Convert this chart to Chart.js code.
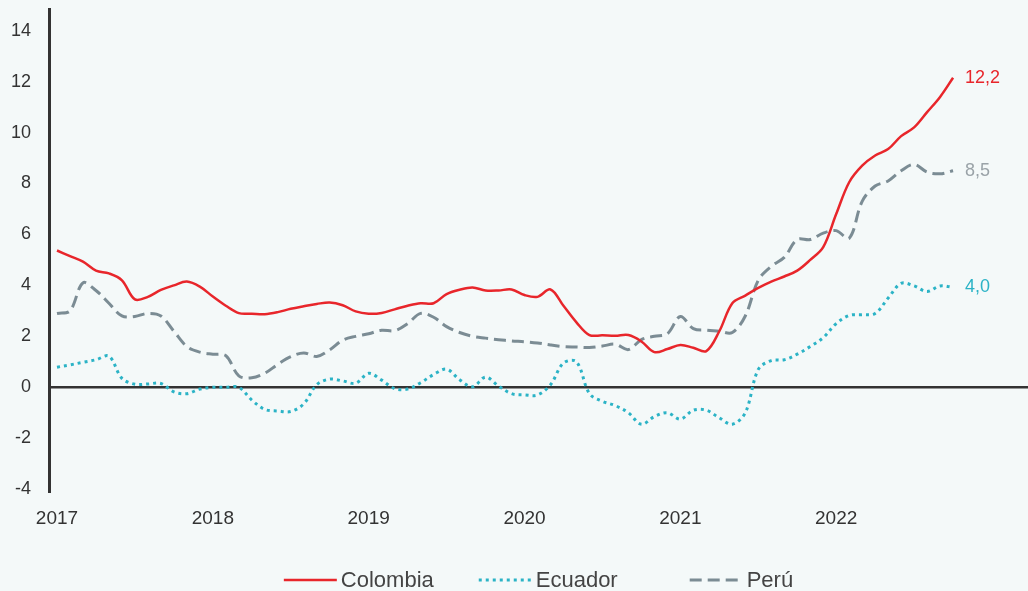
<!DOCTYPE html>
<html><head><meta charset="utf-8">
<script src="https://cdn.jsdelivr.net/npm/chart.js@4.4.1/dist/chart.umd.min.js"></script>
<style>html,body{margin:0;padding:0;background:#F4F9F9;overflow:hidden}#wrap{width:1028px;height:591px;position:relative}</style>
</head><body><div id="wrap"><canvas id="c" width="1028" height="591"></canvas></div>
<script>
// Monthly data, Jan 2017 .. Oct 2022 (70 months)
const yearLabels = ['2017','2018','2019','2020','2021','2022'];
const yTickValues = [-4,-2,0,2,4,6,8,10,12,14];
const seriesNames = ['Colombia','Ecuador','Perú'];
const colombia = [5.37,5.15,4.93,4.58,4.47,4.2,3.45,3.55,3.82,4.0,4.15,3.95,
  3.56,3.2,2.91,2.89,2.87,2.95,3.08,3.18,3.27,3.33,3.22,2.98,
  2.89,2.92,3.06,3.2,3.3,3.3,3.66,3.83,3.92,3.8,3.8,3.84,
  3.62,3.55,3.84,3.2,2.55,2.05,2.04,2.02,2.05,1.8,1.38,1.5,
  1.66,1.55,1.42,2.2,3.3,3.6,3.9,4.15,4.35,4.58,5.0,5.5,
  6.8,8.05,8.7,9.1,9.35,9.86,10.2,10.8,11.4,12.15];
const ecuador = [0.79,0.88,0.98,1.08,1.22,0.35,0.12,0.13,0.15,-0.18,-0.25,-0.07,
  0.0,0.0,0.0,-0.5,-0.87,-0.93,-0.95,-0.65,0.1,0.32,0.25,0.16,
  0.55,0.28,-0.05,-0.07,0.18,0.5,0.71,0.3,0.02,0.4,0.05,-0.25,
  -0.3,-0.3,0.1,0.95,1.0,-0.25,-0.55,-0.72,-1.0,-1.45,-1.15,-1.0,
  -1.25,-0.9,-0.9,-1.2,-1.45,-1.0,0.7,1.05,1.08,1.3,1.6,1.95,
  2.5,2.82,2.85,2.9,3.5,4.08,3.98,3.76,3.98,3.92];
const peru = [2.9,3.0,4.1,3.8,3.3,2.8,2.78,2.9,2.8,2.2,1.6,1.38,
  1.3,1.24,0.45,0.37,0.55,0.9,1.2,1.35,1.21,1.47,1.85,2.0,
  2.1,2.24,2.22,2.5,2.9,2.75,2.38,2.15,2.0,1.93,1.87,1.82,
  1.79,1.74,1.66,1.6,1.58,1.56,1.62,1.69,1.48,1.87,2.0,2.1,
  2.78,2.3,2.24,2.2,2.15,2.8,4.2,4.75,5.1,5.8,5.8,6.05,
  6.15,5.85,7.3,7.9,8.1,8.5,8.75,8.45,8.38,8.5];
const endLabels = ['12,2','4,0','8,5'];

const COLORS = ['#E8262B','#2BB3C6','#7B8C94'];
const END_COLORS = ['#E8262B','#2BB3C6','#9AA3A8'];
const FONT = '"Liberation Sans", Arial, sans-serif';

const toPts = arr => arr.map((v,i)=>({x:i,y:v}));

const endLabelPlugin = {
  id:'endLabels',
  afterDatasetsDraw(chart){
    const ctx = chart.ctx;
    ctx.save();
    ctx.font = '18px ' + FONT;
    ctx.textBaseline = 'middle';
    ctx.textAlign = 'left';
    chart.data.datasets.forEach((ds,i)=>{
      const meta = chart.getDatasetMeta(i);
      const pt = meta.data[meta.data.length-1];
      ctx.fillStyle = END_COLORS[i];
      ctx.fillText(endLabels[i], pt.x + 12, pt.y);
    });
    ctx.restore();
  }
};

const legendPlugin = {
  id:'customLegend',
  afterDraw(chart){
    const ctx = chart.ctx;
    const ca = chart.chartArea;
    ctx.save();
    ctx.font = '22px ' + FONT;
    const lineW = 53, gapText = 4, gaps = [45, 72];
    const widths = chart.data.datasets.map(ds => lineW + gapText + ctx.measureText(ds.label).width);
    const total = widths.reduce((a,b)=>a+b,0) + gaps.reduce((a,b)=>a+b,0);
    let x = (ca.left + ca.right)/2 - total/2;
    const y = 580;
    chart.data.datasets.forEach((ds,i)=>{
      ctx.beginPath();
      ctx.setLineDash(ds.borderDash || []);
      ctx.lineWidth = ds.borderWidth;
      ctx.strokeStyle = ds.borderColor;
      ctx.lineCap = 'butt';
      ctx.moveTo(x, y); ctx.lineTo(x+lineW, y);
      ctx.stroke();
      ctx.setLineDash([]);
      ctx.fillStyle = '#444';
      ctx.textBaseline = 'middle';
      ctx.fillText(ds.label, x + lineW + gapText, y + 1);
      x += widths[i] + (gaps[i] || 0);
    });
    ctx.restore();
  }
};

new Chart(document.getElementById('c'), {
  type:'line',
  data:{
    datasets:[
      {label:seriesNames[0], data:toPts(colombia), borderColor:COLORS[0], borderWidth:2.5, tension:0.35},
      {label:seriesNames[1], data:toPts(ecuador), borderColor:COLORS[1], borderWidth:3, borderDash:[3,4], tension:0.35},
      {label:seriesNames[2], data:toPts(peru), borderColor:COLORS[2], borderWidth:3, borderDash:[12,6], tension:0.35}
    ]
  },
  options:{
    responsive:false,
    animation:false,
    events:[],
    elements:{point:{radius:0}, line:{borderCapStyle:'butt', fill:false}},
    layout:{padding:{top:9,right:0,left:0,bottom:0}},
    plugins:{legend:{display:false}, tooltip:{enabled:false}},
    scales:{
      x:{
        type:'linear', min:-0.616, max:74.77,
        afterBuildTicks(s){ s.ticks = yearLabels.map((l,i)=>({value:i*12})); },
        afterFit(s){ s.height = 98; s.paddingLeft = 0; s.paddingRight = 0; },
        grid:{display:false, drawTicks:false},
        border:{display:false},
        ticks:{padding:14, color:'#333', font:{family:FONT,size:19}, maxRotation:0, autoSkip:false,
          callback:(v)=> yearLabels[Math.round(v/12)]}
      },
      y:{
        min:-4.15, max:14.85,
        afterBuildTicks(s){ s.ticks = yTickValues.map(v=>({value:v})); },
        afterFit(s){ s.width = 49; s.paddingTop = 0; s.paddingBottom = 0; },
        grid:{drawTicks:false, color:(c)=> c.tick && c.tick.value===0 ? '#333' : 'rgba(0,0,0,0)', lineWidth:(c)=> c.tick && c.tick.value===0 ? 2.5 : 0},
        border:{display:true, color:'#333', width:3},
        ticks:{padding:18, color:'#333', font:{family:FONT,size:18}}
      }
    }
  },
  plugins:[endLabelPlugin, legendPlugin]
});
</script>
</body></html>
